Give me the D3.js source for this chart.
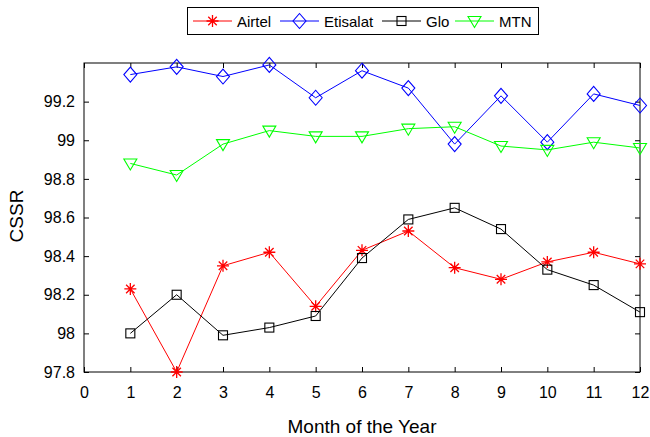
<!DOCTYPE html>
<html>
<head>
<meta charset="utf-8">
<script src="https://cdn.jsdelivr.net/npm/d3@7"></script>
<style>
  body { margin: 0; background: #fff; }
  svg { display: block; font-family: "Liberation Sans", Arial, sans-serif; }
</style>
</head>
<body>
<svg id="chart" width="650" height="437"></svg>
<script>
// Monthly call setup success rate (CSSR) per operator
const months = [1, 2, 3, 4, 5, 6, 7, 8, 9, 10, 11, 12];
const airtel   = [98.23, 97.80, 98.35, 98.42, 98.14, 98.43, 98.53, 98.34, 98.28, 98.37, 98.42, 98.36];
const etisalat = [99.34, 99.38, 99.33, 99.39, 99.22, 99.36, 99.27, 98.98, 99.23, 98.99, 99.24, 99.18];
const glo      = [98.00, 98.20, 97.99, 98.03, 98.09, 98.39, 98.59, 98.65, 98.54, 98.33, 98.25, 98.11];
const mtn      = [98.88, 98.82, 98.98, 99.05, 99.02, 99.02, 99.06, 99.07, 98.97, 98.95, 98.99, 98.96];
const xTicks = [0, 1, 2, 3, 4, 5, 6, 7, 8, 9, 10, 11, 12];
const yTicks = [97.8, 98, 98.2, 98.4, 98.6, 98.8, 99, 99.2];

const series = [
  { name: "Airtel",   values: airtel,   color: "#ff0000", marker: "star" },
  { name: "Etisalat", values: etisalat, color: "#0000ff", marker: "diamond" },
  { name: "Glo",      values: glo,      color: "#000000", marker: "square" },
  { name: "MTN",      values: mtn,      color: "#00ff00", marker: "triangle" }
];

const svg = d3.select("#chart");
const m = { left: 84, right: 10, top: 63, bottom: 65 };
const W = 650, H = 437;
const x = d3.scaleLinear().domain([0, 12]).range([m.left, W - m.right]);
const y = d3.scaleLinear().domain([97.8, 99.4]).range([H - m.bottom, m.top]);

const x0 = x.range()[0], x1 = x.range()[1], y0 = y.range()[0], y1 = y.range()[1];

// axes with inward ticks, mirrored on top and right
const tickLen = 5;
const fmt = d => String(+d.toFixed(1));
const bottomAxis = d3.axisBottom(x).tickValues(xTicks).tickSize(-tickLen).tickPadding(14.5).tickFormat(d3.format("d"));
const topAxis = d3.axisTop(x).tickValues(xTicks).tickSize(-tickLen).tickFormat("");
const leftAxis = d3.axisLeft(y).tickValues(yTicks).tickSize(-tickLen).tickPadding(9).tickFormat(fmt);
const rightAxis = d3.axisRight(y).tickValues(yTicks).tickSize(-tickLen).tickFormat("");

function styleAxis(g) {
  g.select(".domain").remove();
  g.selectAll(".tick line").attr("stroke", "#000");
  g.selectAll(".tick text").attr("fill", "#000").style("font-size", "16px");
}
svg.append("g").attr("transform", `translate(0,${y0})`).call(bottomAxis).call(styleAxis);
svg.append("g").attr("transform", `translate(0,${y1})`).call(topAxis).call(styleAxis);
svg.append("g").attr("transform", `translate(${x0},0)`).call(leftAxis).call(styleAxis);
svg.append("g").attr("transform", `translate(${x1},0)`).call(rightAxis).call(styleAxis);

svg.append("rect")
  .attr("x", x0).attr("y", y1).attr("width", x1 - x0).attr("height", y0 - y1)
  .attr("fill", "none").attr("stroke", "#000").attr("stroke-width", 1);

// axis titles
svg.append("text")
  .attr("x", (x0 + x1) / 2).attr("y", 433)
  .attr("text-anchor", "middle").style("font-size", "19px").text("Month of the Year");
svg.append("text")
  .attr("transform", `translate(23,216) rotate(-90)`)
  .attr("text-anchor", "middle").style("font-size", "19px").text("CSSR");

// marker shapes
function drawMarker(g, type, color) {
  const sw = 1.1;
  if (type === "star") {
    const r = 6;
    const d = [];
    for (let k = 0; k < 4; k++) {
      const a = k * Math.PI / 4;
      d.push(`M${-r * Math.cos(a)},${-r * Math.sin(a)}L${r * Math.cos(a)},${r * Math.sin(a)}`);
    }
    g.append("path").attr("d", d.join(""))
      .attr("fill", "none").attr("stroke", color).attr("stroke-width", 1.3);
  } else if (type === "diamond") {
    g.append("path").attr("d", "M0,-7.5L6.5,0L0,7.5L-6.5,0Z")
      .attr("fill", "none").attr("stroke", color).attr("stroke-width", sw);
  } else if (type === "square") {
    g.append("rect").attr("x", -4.5).attr("y", -4.5).attr("width", 9).attr("height", 9)
      .attr("fill", "none").attr("stroke", color).attr("stroke-width", sw);
  } else if (type === "triangle") {
    g.append("path").attr("d", "M-6.5,-4.5L6.5,-4.5L0,6.5Z")
      .attr("fill", "none").attr("stroke", color).attr("stroke-width", sw);
  }
}

const line = d3.line().x((d, i) => x(months[i])).y(d => y(d));
series.forEach(s => {
  const g = svg.append("g");
  g.append("path").attr("d", line(s.values))
    .attr("fill", "none").attr("stroke", s.color).attr("stroke-width", 1);
  s.values.forEach((v, i) => {
    const mg = g.append("g").attr("transform", `translate(${x(months[i])},${y(v)})`);
    drawMarker(mg, s.marker, s.color);
  });
});

// legend
const legend = svg.append("g");
legend.append("rect").attr("x", 187.5).attr("y", 7.5).attr("width", 351).attr("height", 27)
  .attr("fill", "#fff").attr("stroke", "#000").attr("stroke-width", 1);
const legendX = [193, 280, 382, 455];
series.forEach((s, i) => {
  const lx = legendX[i], ly = 21;
  const g = legend.append("g");
  g.append("line").attr("x1", lx).attr("x2", lx + 39).attr("y1", ly).attr("y2", ly)
    .attr("stroke", s.color).attr("stroke-width", 1);
  const mg = g.append("g").attr("transform", `translate(${lx + 19.5},${ly})`);
  drawMarker(mg, s.marker, s.color);
  g.append("text").attr("x", lx + 44).attr("y", ly + 5.5)
    .style("font-size", "15px").attr("fill", "#000").text(s.name);
});
</script>
</body>
</html>
